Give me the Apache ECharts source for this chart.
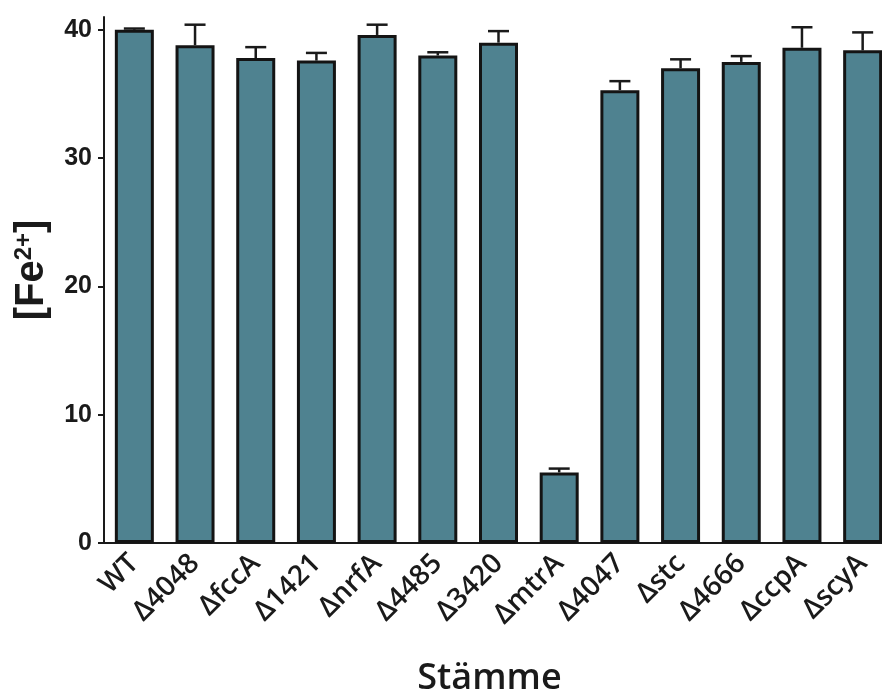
<!DOCTYPE html>
<html>
<head>
<meta charset="utf-8">
<script src="https://cdn.jsdelivr.net/npm/echarts@6/dist/echarts.min.js"></script>
<style>
html,body{margin:0;padding:0;background:#fff;}
#chart{width:882px;height:693px;}
</style>
</head>
<body>
<div id="chart"></div>
<script>
const categories = ['WT','Δ4048','ΔfccA','Δ1421','ΔnrfA','Δ4485','Δ3420','ΔmtrA','Δ4047','Δstc','Δ4666','ΔccpA','ΔscyA'];
const meanValues = [40.0, 38.8, 37.8, 37.6, 39.6, 38.0, 39.0, 5.5, 35.3, 37.0, 37.5, 38.6, 38.4];
const errorValues = [0.1, 1.6, 0.85, 0.6, 0.8, 0.25, 0.9, 0.3, 0.7, 0.7, 0.45, 1.6, 1.4];
const yTickValues = [0, 10, 20, 30, 40];

const chart = echarts.init(document.getElementById('chart'));
const errData = meanValues.map((v, i) => [i, v, errorValues[i]]);

chart.setOption({
  animation: false,
  backgroundColor: '#ffffff',
  grid: { left: 104, top: 17, bottom: 150, right: -11, containLabel: false, outerBoundsMode: 'none' },
  xAxis: {
    type: 'category',
    data: categories,
    boundaryGap: true,
    name: 'Stämme',
    nameLocation: 'middle',
    nameGap: 118,
    nameTextStyle: { fontFamily: 'Open Sans', fontWeight: 600, fontSize: 36, color: '#1a1a1a', padding: [0, 18, 0, 0] },
    axisLine: { lineStyle: { color: '#1a1a1a', width: 2 } },
    axisTick: { alignWithLabel: true, length: 6, lineStyle: { color: '#1a1a1a', width: 2 } },
    axisLabel: { rotate: 45, margin: 16, interval: 0, fontFamily: 'Open Sans', fontWeight: 600, fontSize: 28, color: '#1a1a1a' }
  },
  yAxis: {
    type: 'value',
    min: 0,
    max: 41,
    name: '{b|[Fe}{s|2+}{b|]}',
    nameLocation: 'middle',
    nameRotate: 90,
    nameGap: 52,
    nameTextStyle: {
      padding: [0, 0, 0, 20],
      rich: {
        b: { fontFamily: 'Liberation Sans', fontWeight: 'bold', fontSize: 40, color: '#1a1a1a' },
        s: { fontFamily: 'Liberation Sans', fontWeight: 'bold', fontSize: 24, color: '#1a1a1a', verticalAlign: 'top', padding: [0, 0, 16, 0] }
      }
    },
    splitLine: { show: false },
    axisLine: { show: true, lineStyle: { color: '#1a1a1a', width: 2 } },
    axisTick: { show: true, length: 6, customValues: yTickValues, lineStyle: { color: '#1a1a1a', width: 2 } },
    axisLabel: { customValues: yTickValues, margin: 12, fontFamily: 'Liberation Sans', fontWeight: 'bold', fontSize: 25, color: '#1a1a1a' }
  },
  series: [
    {
      type: 'bar',
      data: meanValues,
      barWidth: 39,
      itemStyle: { color: '#4f8290', borderColor: '#141414', borderWidth: 3 },
      z: 2
    },
    {
      type: 'custom',
      data: errData,
      z: 3,
      renderItem: function (params, api) {
        const x = api.value(0), v = api.value(1), e = api.value(2);
        const base = api.coord([x, v]);
        const top = api.coord([x, v + e]);
        const hw = 10.5;
        const style = { stroke: '#1a1a1a', lineWidth: 2.5 };
        return {
          type: 'group',
          children: [
            { type: 'line', shape: { x1: base[0], y1: base[1], x2: top[0], y2: top[1] }, style: style },
            { type: 'line', shape: { x1: top[0] - hw, y1: top[1], x2: top[0] + hw, y2: top[1] }, style: style }
          ]
        };
      }
    }
  ]
});
</script>
</body>
</html>
